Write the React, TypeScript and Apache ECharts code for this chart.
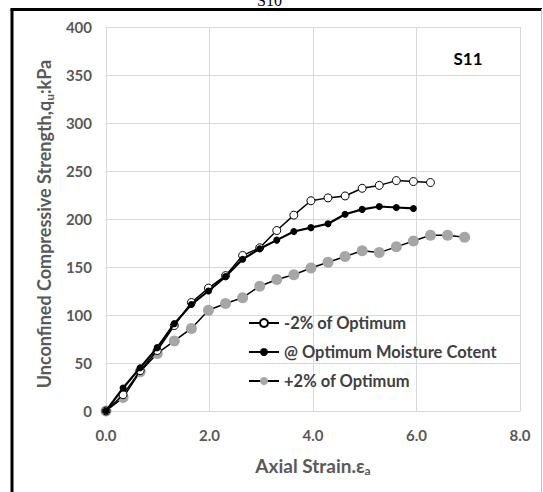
import React, { useEffect, useRef } from "react";
import * as echarts from "echarts";

const strainDry = [0, 0.33, 0.66, 0.99, 1.32, 1.65, 1.98, 2.31, 2.64, 2.97, 3.3, 3.63, 3.96, 4.29, 4.62, 4.95, 5.28, 5.61, 5.94, 6.27];
const stressDry = [0, 17, 42, 63, 89, 113, 128, 141, 162, 170, 188, 204, 219, 222, 224, 232, 235, 240, 239, 238];

const strainOpt = [0, 0.33, 0.66, 0.99, 1.32, 1.65, 1.98, 2.31, 2.64, 2.97, 3.3, 3.63, 3.96, 4.29, 4.62, 4.95, 5.28, 5.61, 5.94];
const stressOpt = [0, 24, 45, 66, 91, 111, 125, 140, 158, 169, 178, 187, 191, 195, 205, 210, 213, 212, 211];

const strainWet = [0, 0.33, 0.66, 0.99, 1.32, 1.65, 1.98, 2.31, 2.64, 2.97, 3.3, 3.63, 3.96, 4.29, 4.62, 4.95, 5.28, 5.61, 5.94, 6.27, 6.6, 6.93];
const stressWet = [0, 14, 41, 60, 73, 86, 105, 112, 118, 130, 137, 142, 149, 155, 161, 167, 165, 171, 177, 183, 183, 181];

const seriesNames = ["-2% of Optimum", "@ Optimum Moisture Cotent", "+2% of Optimum"];
const xTicks = { min: 0, max: 8, interval: 2 };
const yTicks = { min: 0, max: 400, interval: 50 };

const zip = (xs: number[], ys: number[]) => xs.map((x, i) => [x, ys[i]]);

const FONT = "Lato";
const GRAY = "#595959";

export default function App() {
  const ref = useRef<HTMLDivElement>(null);
  useEffect(() => {
    if (!ref.current) return;
    const chart = echarts.init(ref.current, undefined, { renderer: "svg" });
    chart.setOption({
      animation: false,
      backgroundColor: "#ffffff",
      grid: { left: 106, top: 27, width: 414, height: 384, containLabel: false },
      xAxis: {
        type: "value",
        min: xTicks.min,
        max: xTicks.max,
        interval: xTicks.interval,
        axisLine: { show: true, lineStyle: { color: "#d9d9d9", width: 1 } },
        axisTick: { show: false },
        splitLine: { show: true, lineStyle: { color: "#d9d9d9", width: 1 } },
        axisLabel: {
          formatter: (v: number) => v.toFixed(1),
          color: GRAY,
          fontFamily: FONT,
          fontWeight: "bold",
          fontSize: 15,
          margin: 16,
        },
        name: "{t|Axial Strain.ε}{s|a}",
        nameLocation: "middle",
        nameGap: 43,
        nameTextStyle: {
          rich: {
            t: { fontFamily: FONT, fontWeight: "bold", fontSize: 19, color: GRAY, lineHeight: 22 },
            s: { fontFamily: FONT, fontWeight: "bold", fontSize: 12, color: GRAY, lineHeight: 22, verticalAlign: "bottom", padding: [9, 0, 0, 0] },
          },
        },
      },
      yAxis: {
        type: "value",
        min: yTicks.min,
        max: yTicks.max,
        interval: yTicks.interval,
        axisLine: { show: true, lineStyle: { color: "#d9d9d9", width: 1 } },
        axisTick: { show: false },
        splitLine: { show: true, lineStyle: { color: "#d9d9d9", width: 1 } },
        axisLabel: {
          color: GRAY,
          fontFamily: FONT,
          fontWeight: "bold",
          fontSize: 15,
          margin: 14,
        },
        name: "{t|Unconfined Compressive Strength,q}{s|u}{t|:kPa}",
        nameLocation: "middle",
        nameRotate: 90,
        nameGap: 46,
        nameTextStyle: {
          padding: [0, 10, 0, 0],
          rich: {
            t: { fontFamily: FONT, fontWeight: "bold", fontSize: 18, color: GRAY, lineHeight: 22 },
            s: { fontFamily: FONT, fontWeight: "bold", fontSize: 12, color: GRAY, lineHeight: 22, verticalAlign: "bottom", padding: [9, 0, 0, 0] },
          },
        },
      },
      legend: {
        orient: "vertical",
        left: 243,
        top: 309,
        itemWidth: 30,
        itemHeight: 10,
        itemGap: 11,
        textStyle: { fontFamily: FONT, fontWeight: "bold", fontSize: 16.5, color: "#404040", lineHeight: 18 },
        data: seriesNames,
      },
      graphic: [
        { type: "line", shape: { x1: 12, y1: 9, x2: 12, y2: 492 }, style: { stroke: "#000", lineWidth: 3 } },
        { type: "line", shape: { x1: 10.5, y1: 9.5, x2: 542, y2: 9.5 }, style: { stroke: "#000", lineWidth: 3 } },
        { type: "line", shape: { x1: 541.5, y1: 9, x2: 541.5, y2: 492 }, style: { stroke: "#bfbfbf", lineWidth: 1 } },
        {
          type: "text",
          left: 257,
          top: -8,
          style: { text: "S10", font: "16px 'Liberation Serif'", fill: "#000" },
        },
        {
          type: "text",
          x: 468,
          y: 58,
          style: { text: "S11", font: "bold 17px Lato", fill: "#000", align: "center", verticalAlign: "middle" },
        },
      ],
      series: [
        {
          name: seriesNames[0],
          type: "line",
          data: zip(strainDry, stressDry),
          symbol: "circle",
          symbolSize: 8,
          lineStyle: { color: "#000", width: 1.5 },
          itemStyle: { color: "#ffffff", borderColor: "#000", borderWidth: 1 },
          z: 3,
        },
        {
          name: seriesNames[1],
          type: "line",
          data: zip(strainOpt, stressOpt),
          symbol: "circle",
          symbolSize: 7,
          lineStyle: { color: "#000", width: 2.2 },
          itemStyle: { color: "#000", borderColor: "#000", borderWidth: 0 },
          z: 4,
        },
        {
          name: seriesNames[2],
          type: "line",
          data: zip(strainWet, stressWet),
          symbol: "circle",
          symbolSize: 11,
          lineStyle: { color: "#000", width: 1.5 },
          itemStyle: { color: "#a6a6a6", borderColor: "#a6a6a6", borderWidth: 0 },
          z: 2,
        },
      ],
    });
    return () => chart.dispose();
  }, []);
  return (
    <div
      ref={ref}
      style={{ position: "absolute", left: 0, top: 0, width: 543, height: 492, background: "#fff" }}
    />
  );
}
